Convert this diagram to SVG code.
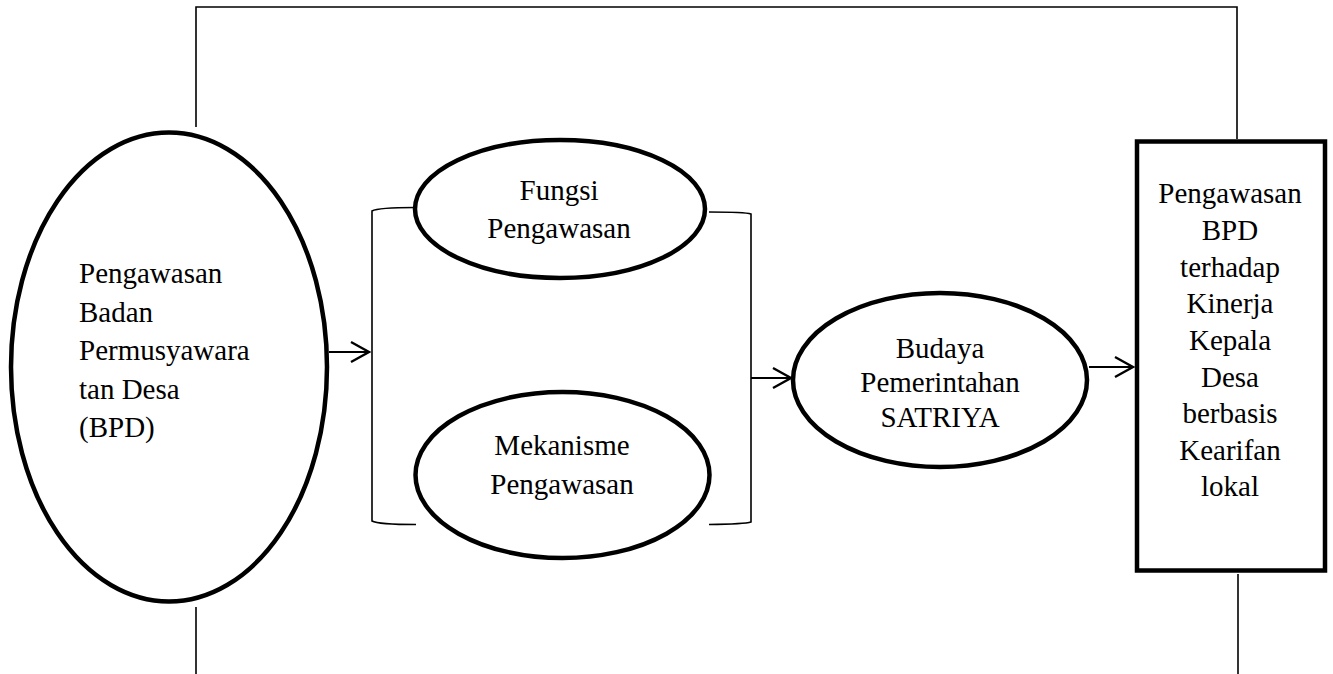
<svg xmlns="http://www.w3.org/2000/svg" width="1333" height="674" viewBox="0 0 1333 674">
<style>
.node{fill:#fff;stroke:#000;stroke-width:4.5}
.ln{fill:none;stroke:#000;stroke-width:1.6}
.arr{fill:none;stroke:#000;stroke-width:2}
text{font-family:"Liberation Serif","Times New Roman",serif;font-size:29px;fill:#000}
.c{text-anchor:middle}
</style>
<defs>
<marker id="ah" markerUnits="userSpaceOnUse" markerWidth="24" markerHeight="24" refX="20" refY="12" orient="auto" viewBox="0 0 24 24">
<path d="M2,2 L20,12 L2,22" fill="none" stroke="#000" stroke-width="2.4"/>
</marker>
</defs>
<g id="connectors">
<polyline class="ln" points="196,127 196,7 1237,7 1237,139"/>
<line class="ln" x1="196" y1="607" x2="196" y2="674"/>
<line class="ln" x1="1238" y1="574" x2="1238" y2="674"/>
<path class="ln" d="M415,207.5 Q378,207.5 372,211 V521 Q378,524.5 416,524.5"/>
<path class="ln" d="M709,212 Q745,212 751,214 V522 Q745,524 709,524.5"/>
<line class="arr" x1="329" y1="352" x2="369" y2="352" marker-end="url(#ah)"/>
<line class="arr" x1="751" y1="378" x2="791" y2="378" marker-end="url(#ah)"/>
<line class="arr" x1="1089" y1="367" x2="1133" y2="367" marker-end="url(#ah)"/>
</g>
<g id="bpd">
<ellipse class="node" cx="169" cy="367" rx="158" ry="234.5"/>
<text x="79" y="283">Pengawasan</text>
<text x="79" y="321.5">Badan</text>
<text x="79" y="360">Permusyawara</text>
<text x="79" y="399">tan Desa</text>
<text x="79" y="437">(BPD)</text>
</g>
<g id="fungsi">
<ellipse class="node" cx="560" cy="209" rx="145" ry="69"/>
<text class="c" x="559" y="200">Fungsi</text>
<text class="c" x="559" y="238">Pengawasan</text>
</g>
<g id="mekanisme">
<ellipse class="node" cx="562.5" cy="475" rx="147" ry="83"/>
<text class="c" x="562" y="455">Mekanisme</text>
<text class="c" x="562" y="494">Pengawasan</text>
</g>
<g id="budaya">
<ellipse class="node" cx="940" cy="380" rx="147" ry="87"/>
<text class="c" x="940" y="358">Budaya</text>
<text class="c" x="940" y="392">Pemerintahan</text>
<text class="c" x="940" y="427">SATRIYA</text>
</g>
<g id="hasil">
<rect class="node" x="1137" y="141.5" width="188" height="429"/>
<text class="c" x="1230" y="203">Pengawasan</text>
<text class="c" x="1230" y="240">BPD</text>
<text class="c" x="1230" y="276.5">terhadap</text>
<text class="c" x="1230" y="313">Kinerja</text>
<text class="c" x="1230" y="350">Kepala</text>
<text class="c" x="1230" y="386.5">Desa</text>
<text class="c" x="1230" y="423">berbasis</text>
<text class="c" x="1230" y="460">Kearifan</text>
<text class="c" x="1230" y="496">lokal</text>
</g>
</svg>
